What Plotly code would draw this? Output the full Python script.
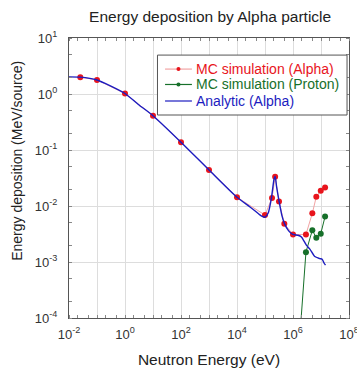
import plotly.graph_objects as go

# Monte Carlo results, alpha particles (energy in eV, deposition in MeV/source)
mc_alpha_e = [0.0253, 0.1, 1, 10, 100, 1000, 1e4, 1e5, 1.78e5, 2.3e5, 3.16e5, 4.9e5,
              1e6, 2.9e6, 4.9e6, 6.8e6, 9.8e6, 1.4e7]
mc_alpha_dep = [2.0, 1.78, 1.02, 0.41, 0.138, 0.044, 0.0143, 0.0069, 0.0139, 0.0333,
                0.012, 0.0048, 0.0031, 0.0031, 0.0074, 0.0147, 0.0187, 0.0213]

# Monte Carlo results, protons
mc_proton_e = [1.4e6, 2.9e6, 4.9e6, 6.8e6, 9.8e6, 1.4e7]
mc_proton_dep = [1e-5, 0.0015, 0.0037, 0.0027, 0.0032, 0.0065]

# Analytic curve, alpha particles
analytic_e = [0.01, 0.0253, 0.1, 0.3, 1, 3, 10, 100, 1000, 1e4, 3e4, 6e4, 8e4, 1e5,
              1.3e5, 1.7e5, 2.1e5, 2.3e5, 2.6e5, 3.2e5, 4e5, 5e5, 7e5, 1e6, 1.5e6,
              2e6, 3e6, 4e6, 6e6, 9e6, 1.1e7, 1.3e7, 1.45e7]
analytic_dep = [2.02, 2.0, 1.78, 1.4, 1.02, 0.65, 0.41, 0.138, 0.044, 0.0143, 0.0095,
                0.0072, 0.0065, 0.0063, 0.0075, 0.014, 0.03, 0.034, 0.022, 0.012,
                0.0068, 0.0048, 0.0036, 0.0031, 0.003, 0.0028, 0.002, 0.0017,
                0.00125, 0.00115, 0.00112, 0.00095, 0.00088]

legend_labels = ["MC simulation (Alpha)", "MC simulation (Proton)", "Analytic (Alpha)"]

x_decades = list(range(-2, 9))
y_decades = list(range(-4, 2))

RED = "#e8141c"
RED_LINE = "#f2a4a4"
GREEN = "#17702a"
BLUE = "#1c1cc0"

fig = go.Figure()
fig.add_trace(go.Scatter(
    x=mc_alpha_e, y=mc_alpha_dep, mode="lines+markers",
    line=dict(color=RED_LINE, width=1),
    marker=dict(color=RED, size=6),
))
fig.add_trace(go.Scatter(
    x=mc_proton_e, y=mc_proton_dep, mode="lines+markers",
    line=dict(color=GREEN, width=1),
    marker=dict(color=GREEN, size=6),
))
fig.add_trace(go.Scatter(
    x=analytic_e, y=analytic_dep, mode="lines",
    line=dict(color=BLUE, width=1.4, shape="spline", smoothing=0.6),
))

axis_common = dict(
    type="log", showline=True, linecolor="#555555", linewidth=1, mirror="allticks",
    showgrid=True, gridcolor="#dddddd", gridwidth=1, ticks="", zeroline=False,
    tickfont=dict(size=13, color="#333333"), ticklabeloverflow="allow",
    automargin=False,
    minor=dict(ticks="inside", ticklen=3, tickcolor="#888888", showgrid=False),
)

fig.update_xaxes(
    **axis_common,
    range=[-2, 8],
    tickvals=[10 ** d for d in x_decades],
    ticktext=[f"10<sup>{d}</sup>" if d % 2 == 0 else "" for d in x_decades],
    ticklabelstandoff=4,
    title=dict(text="Neutron Energy (eV)", font=dict(size=15.5, color="#222222"), standoff=13),
)
fig.update_yaxes(
    **axis_common,
    range=[-4, 1],
    tickvals=[10 ** d for d in y_decades],
    ticktext=[f"10<sup>{d}</sup>" for d in y_decades],
    ticklabelstandoff=8,
)

# Boxed legend drawn in paper coordinates
leg_x0, leg_x1, leg_y0, leg_y1 = 0.316, 0.993, 0.725, 0.939
row_y = [0.889, 0.834, 0.775]
sample_x0, sample_x1, text_x = 0.343, 0.439, 0.446
dot_dx, dot_dy = 0.0072, 0.0072
legend_styles = [
    dict(line=RED_LINE, dot=RED, text=RED),
    dict(line=GREEN, dot=GREEN, text=GREEN),
    dict(line=BLUE, dot=None, text=BLUE),
]

shapes = [dict(type="rect", xref="paper", yref="paper", x0=leg_x0, x1=leg_x1,
               y0=leg_y0, y1=leg_y1, line=dict(color="#555555", width=1),
               fillcolor="white", layer="above")]
annotations = []
for label, yy, st in zip(legend_labels, row_y, legend_styles):
    shapes.append(dict(type="line", xref="paper", yref="paper", x0=sample_x0, x1=sample_x1,
                       y0=yy, y1=yy, line=dict(color=st["line"], width=1.2), layer="above"))
    if st["dot"]:
        xc = (sample_x0 + sample_x1) / 2
        shapes.append(dict(type="circle", xref="paper", yref="paper",
                           x0=xc - dot_dx, x1=xc + dot_dx, y0=yy - dot_dy, y1=yy + dot_dy,
                           fillcolor=st["dot"], line=dict(color=st["dot"], width=0),
                           layer="above"))
    annotations.append(dict(text=label, xref="paper", yref="paper", x=text_x, y=yy,
                            xanchor="left", yanchor="middle", showarrow=False,
                            font=dict(size=14, color=st["text"])))

annotations.append(dict(text="Energy deposition (MeV/source)", xref="paper", yref="paper",
                        x=-0.186, y=0.561, xanchor="center", yanchor="middle",
                        textangle=-90, showarrow=False,
                        font=dict(size=14, color="#222222")))

fig.update_layout(
    width=357, height=370,
    margin=dict(l=69, r=8, t=38, b=52, autoexpand=False),
    paper_bgcolor="white", plot_bgcolor="white",
    font=dict(family="Liberation Sans, Arial, sans-serif"),
    title=dict(text="Energy deposition by Alpha particle", x=0.504, xref="paper",
               xanchor="center", y=0.954, yanchor="middle",
               font=dict(size=15.5, color="#222222")),
    showlegend=False,
    shapes=shapes,
    annotations=annotations,
)

fig.write_html("out.html")
